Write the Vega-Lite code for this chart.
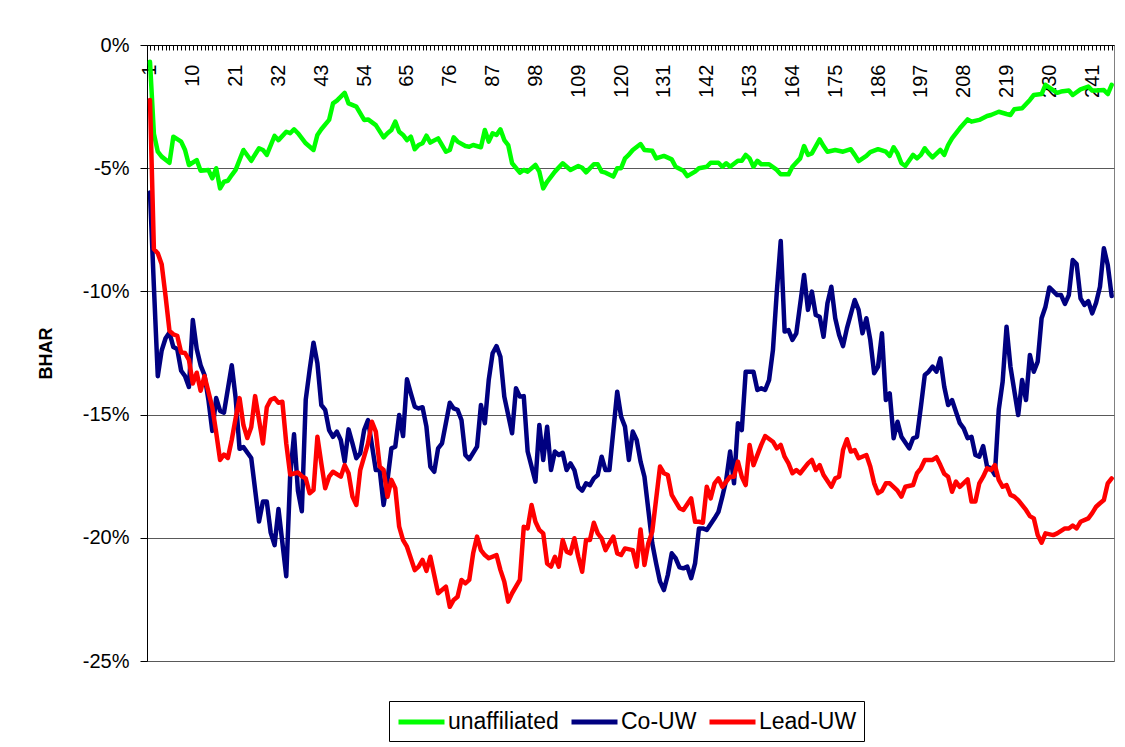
{
 "$schema": "https://vega.github.io/schema/vega-lite/v6.json",
 "width": 967,
 "height": 616,
 "autosize": {"type": "none"},
 "padding": {"left": 147, "top": 45, "right": 11, "bottom": 86},
 "background": "white",
 "config": {"font": "Liberation Sans", "view": {"stroke": "#808080", "strokeWidth": 1}},
 "data": {"values": [
{"series":"unaffiliated","day":-1,"bhar":-0.68},{"series":"unaffiliated","day":0,"bhar":-3.6},{"series":"unaffiliated","day":1,"bhar":-4.33},{"series":"unaffiliated","day":2,"bhar":-4.53},{"series":"unaffiliated","day":4,"bhar":-4.78},{"series":"unaffiliated","day":5,"bhar":-3.72},{"series":"unaffiliated","day":7,"bhar":-3.92},{"series":"unaffiliated","day":8,"bhar":-4.26},{"series":"unaffiliated","day":9,"bhar":-4.87},{"series":"unaffiliated","day":11,"bhar":-4.67},{"series":"unaffiliated","day":12,"bhar":-5.10},{"series":"unaffiliated","day":14,"bhar":-5.07},{"series":"unaffiliated","day":15,"bhar":-5.41},{"series":"unaffiliated","day":16,"bhar":-5.0},{"series":"unaffiliated","day":17,"bhar":-5.82},{"series":"unaffiliated","day":18,"bhar":-5.55},{"series":"unaffiliated","day":19,"bhar":-5.51},{"series":"unaffiliated","day":20,"bhar":-5.28},{"series":"unaffiliated","day":21,"bhar":-5.07},{"series":"unaffiliated","day":23,"bhar":-4.26},{"series":"unaffiliated","day":25,"bhar":-4.70},{"series":"unaffiliated","day":27,"bhar":-4.19},{"series":"unaffiliated","day":28,"bhar":-4.26},{"series":"unaffiliated","day":29,"bhar":-4.46},{"series":"unaffiliated","day":31,"bhar":-3.69},{"series":"unaffiliated","day":32,"bhar":-3.86},{"series":"unaffiliated","day":34,"bhar":-3.52},{"series":"unaffiliated","day":35,"bhar":-3.58},{"series":"unaffiliated","day":36,"bhar":-3.42},{"series":"unaffiliated","day":37,"bhar":-3.58},{"series":"unaffiliated","day":39,"bhar":-3.99},{"series":"unaffiliated","day":41,"bhar":-4.26},{"series":"unaffiliated","day":42,"bhar":-3.65},{"series":"unaffiliated","day":43,"bhar":-3.42},{"series":"unaffiliated","day":45,"bhar":-3.04},{"series":"unaffiliated","day":46,"bhar":-2.37},{"series":"unaffiliated","day":47,"bhar":-2.26},{"series":"unaffiliated","day":49,"bhar":-1.94},{"series":"unaffiliated","day":50,"bhar":-2.37},{"series":"unaffiliated","day":52,"bhar":-2.50},{"series":"unaffiliated","day":54,"bhar":-3.04},{"series":"unaffiliated","day":55,"bhar":-3.02},{"series":"unaffiliated","day":57,"bhar":-3.25},{"series":"unaffiliated","day":59,"bhar":-3.75},{"series":"unaffiliated","day":60,"bhar":-3.58},{"series":"unaffiliated","day":61,"bhar":-3.45},{"series":"unaffiliated","day":62,"bhar":-3.11},{"series":"unaffiliated","day":63,"bhar":-3.52},{"series":"unaffiliated","day":64,"bhar":-3.65},{"series":"unaffiliated","day":65,"bhar":-3.86},{"series":"unaffiliated","day":66,"bhar":-3.72},{"series":"unaffiliated","day":67,"bhar":-4.23},{"series":"unaffiliated","day":68,"bhar":-4.06},{"series":"unaffiliated","day":69,"bhar":-3.99},{"series":"unaffiliated","day":70,"bhar":-3.68},{"series":"unaffiliated","day":71,"bhar":-3.96},{"series":"unaffiliated","day":73,"bhar":-3.79},{"series":"unaffiliated","day":75,"bhar":-4.33},{"series":"unaffiliated","day":76,"bhar":-4.26},{"series":"unaffiliated","day":77,"bhar":-3.75},{"series":"unaffiliated","day":78,"bhar":-3.92},{"series":"unaffiliated","day":80,"bhar":-4.10},{"series":"unaffiliated","day":81,"bhar":-4.13},{"series":"unaffiliated","day":82,"bhar":-4.06},{"series":"unaffiliated","day":84,"bhar":-4.15},{"series":"unaffiliated","day":85,"bhar":-3.45},{"series":"unaffiliated","day":86,"bhar":-3.92},{"series":"unaffiliated","day":87,"bhar":-3.58},{"series":"unaffiliated","day":88,"bhar":-3.65},{"series":"unaffiliated","day":89,"bhar":-3.42},{"series":"unaffiliated","day":90,"bhar":-3.86},{"series":"unaffiliated","day":91,"bhar":-4.06},{"series":"unaffiliated","day":92,"bhar":-4.80},{"series":"unaffiliated","day":94,"bhar":-5.18},{"series":"unaffiliated","day":95,"bhar":-5.07},{"series":"unaffiliated","day":96,"bhar":-5.14},{"series":"unaffiliated","day":98,"bhar":-4.87},{"series":"unaffiliated","day":99,"bhar":-5.14},{"series":"unaffiliated","day":100,"bhar":-5.82},{"series":"unaffiliated","day":101,"bhar":-5.55},{"series":"unaffiliated","day":103,"bhar":-5.14},{"series":"unaffiliated","day":105,"bhar":-4.80},{"series":"unaffiliated","day":107,"bhar":-5.07},{"series":"unaffiliated","day":109,"bhar":-4.91},{"series":"unaffiliated","day":110,"bhar":-4.98},{"series":"unaffiliated","day":111,"bhar":-5.17},{"series":"unaffiliated","day":113,"bhar":-4.84},{"series":"unaffiliated","day":114,"bhar":-4.84},{"series":"unaffiliated","day":115,"bhar":-5.14},{"series":"unaffiliated","day":116,"bhar":-5.18},{"series":"unaffiliated","day":118,"bhar":-5.34},{"series":"unaffiliated","day":119,"bhar":-5.0},{"series":"unaffiliated","day":120,"bhar":-5.0},{"series":"unaffiliated","day":121,"bhar":-4.60},{"series":"unaffiliated","day":122,"bhar":-4.45},{"series":"unaffiliated","day":123,"bhar":-4.26},{"series":"unaffiliated","day":125,"bhar":-4.02},{"series":"unaffiliated","day":126,"bhar":-4.26},{"series":"unaffiliated","day":128,"bhar":-4.29},{"series":"unaffiliated","day":129,"bhar":-4.60},{"series":"unaffiliated","day":131,"bhar":-4.50},{"series":"unaffiliated","day":133,"bhar":-4.64},{"series":"unaffiliated","day":134,"bhar":-4.94},{"series":"unaffiliated","day":136,"bhar":-5.10},{"series":"unaffiliated","day":137,"bhar":-5.32},{"series":"unaffiliated","day":139,"bhar":-5.14},{"series":"unaffiliated","day":140,"bhar":-5.0},{"series":"unaffiliated","day":142,"bhar":-4.94},{"series":"unaffiliated","day":143,"bhar":-4.78},{"series":"unaffiliated","day":145,"bhar":-4.78},{"series":"unaffiliated","day":146,"bhar":-4.94},{"series":"unaffiliated","day":147,"bhar":-4.80},{"series":"unaffiliated","day":148,"bhar":-4.94},{"series":"unaffiliated","day":150,"bhar":-4.70},{"series":"unaffiliated","day":151,"bhar":-4.70},{"series":"unaffiliated","day":152,"bhar":-4.46},{"series":"unaffiliated","day":153,"bhar":-4.60},{"series":"unaffiliated","day":154,"bhar":-4.94},{"series":"unaffiliated","day":155,"bhar":-4.70},{"series":"unaffiliated","day":156,"bhar":-4.84},{"series":"unaffiliated","day":158,"bhar":-4.84},{"series":"unaffiliated","day":160,"bhar":-5.07},{"series":"unaffiliated","day":161,"bhar":-5.25},{"series":"unaffiliated","day":163,"bhar":-5.25},{"series":"unaffiliated","day":164,"bhar":-4.94},{"series":"unaffiliated","day":166,"bhar":-4.60},{"series":"unaffiliated","day":167,"bhar":-4.10},{"series":"unaffiliated","day":168,"bhar":-4.46},{"series":"unaffiliated","day":169,"bhar":-4.40},{"series":"unaffiliated","day":171,"bhar":-3.83},{"series":"unaffiliated","day":172,"bhar":-4.10},{"series":"unaffiliated","day":173,"bhar":-4.33},{"series":"unaffiliated","day":175,"bhar":-4.26},{"series":"unaffiliated","day":177,"bhar":-4.33},{"series":"unaffiliated","day":179,"bhar":-4.23},{"series":"unaffiliated","day":180,"bhar":-4.46},{"series":"unaffiliated","day":181,"bhar":-4.71},{"series":"unaffiliated","day":183,"bhar":-4.50},{"series":"unaffiliated","day":184,"bhar":-4.35},{"series":"unaffiliated","day":186,"bhar":-4.23},{"series":"unaffiliated","day":188,"bhar":-4.33},{"series":"unaffiliated","day":189,"bhar":-4.50},{"series":"unaffiliated","day":190,"bhar":-4.15},{"series":"unaffiliated","day":191,"bhar":-4.40},{"series":"unaffiliated","day":192,"bhar":-4.80},{"series":"unaffiliated","day":193,"bhar":-4.91},{"series":"unaffiliated","day":195,"bhar":-4.46},{"series":"unaffiliated","day":196,"bhar":-4.60},{"series":"unaffiliated","day":197,"bhar":-4.46},{"series":"unaffiliated","day":198,"bhar":-4.19},{"series":"unaffiliated","day":199,"bhar":-4.40},{"series":"unaffiliated","day":200,"bhar":-4.56},{"series":"unaffiliated","day":202,"bhar":-4.26},{"series":"unaffiliated","day":203,"bhar":-4.46},{"series":"unaffiliated","day":204,"bhar":-4.06},{"series":"unaffiliated","day":205,"bhar":-3.79},{"series":"unaffiliated","day":207,"bhar":-3.38},{"series":"unaffiliated","day":209,"bhar":-3.02},{"series":"unaffiliated","day":210,"bhar":-3.11},{"series":"unaffiliated","day":212,"bhar":-3.04},{"series":"unaffiliated","day":214,"bhar":-2.88},{"series":"unaffiliated","day":215,"bhar":-2.84},{"series":"unaffiliated","day":217,"bhar":-2.71},{"series":"unaffiliated","day":219,"bhar":-2.80},{"series":"unaffiliated","day":220,"bhar":-2.84},{"series":"unaffiliated","day":221,"bhar":-2.61},{"series":"unaffiliated","day":223,"bhar":-2.57},{"series":"unaffiliated","day":225,"bhar":-2.23},{"series":"unaffiliated","day":226,"bhar":-2.03},{"series":"unaffiliated","day":228,"bhar":-1.99},{"series":"unaffiliated","day":229,"bhar":-1.62},{"series":"unaffiliated","day":230,"bhar":-1.73},{"series":"unaffiliated","day":232,"bhar":-1.94},{"series":"unaffiliated","day":233,"bhar":-1.89},{"series":"unaffiliated","day":235,"bhar":-1.85},{"series":"unaffiliated","day":236,"bhar":-2.03},{"series":"unaffiliated","day":238,"bhar":-1.80},{"series":"unaffiliated","day":240,"bhar":-1.69},{"series":"unaffiliated","day":241,"bhar":-1.85},{"series":"unaffiliated","day":242,"bhar":-1.85},{"series":"unaffiliated","day":244,"bhar":-1.83},{"series":"unaffiliated","day":245,"bhar":-1.99},{"series":"unaffiliated","day":246,"bhar":-1.62},
{"series":"Co-UW","day":-1,"bhar":-5.99},{"series":"Co-UW","day":0,"bhar":-9.8},{"series":"Co-UW","day":1,"bhar":-13.44},{"series":"Co-UW","day":2,"bhar":-12.4},{"series":"Co-UW","day":3,"bhar":-11.9},{"series":"Co-UW","day":4,"bhar":-11.67},{"series":"Co-UW","day":5,"bhar":-12.26},{"series":"Co-UW","day":6,"bhar":-12.34},{"series":"Co-UW","day":7,"bhar":-13.22},{"series":"Co-UW","day":8,"bhar":-13.44},{"series":"Co-UW","day":9,"bhar":-13.88},{"series":"Co-UW","day":10,"bhar":-11.16},{"series":"Co-UW","day":11,"bhar":-12.34},{"series":"Co-UW","day":12,"bhar":-13.0},{"series":"Co-UW","day":13,"bhar":-13.4},{"series":"Co-UW","day":14,"bhar":-14.4},{"series":"Co-UW","day":15,"bhar":-15.66},{"series":"Co-UW","day":16,"bhar":-14.33},{"series":"Co-UW","day":17,"bhar":-14.85},{"series":"Co-UW","day":18,"bhar":-14.92},{"series":"Co-UW","day":20,"bhar":-13.0},{"series":"Co-UW","day":21,"bhar":-14.33},{"series":"Co-UW","day":22,"bhar":-16.39},{"series":"Co-UW","day":23,"bhar":-16.32},{"series":"Co-UW","day":25,"bhar":-16.76},{"series":"Co-UW","day":27,"bhar":-19.34},{"series":"Co-UW","day":28,"bhar":-18.53},{"series":"Co-UW","day":29,"bhar":-18.53},{"series":"Co-UW","day":30,"bhar":-19.79},{"series":"Co-UW","day":31,"bhar":-20.30},{"series":"Co-UW","day":32,"bhar":-18.83},{"series":"Co-UW","day":34,"bhar":-21.56},{"series":"Co-UW","day":35,"bhar":-17.5},{"series":"Co-UW","day":36,"bhar":-15.80},{"series":"Co-UW","day":37,"bhar":-18.09},{"series":"Co-UW","day":38,"bhar":-18.92},{"series":"Co-UW","day":39,"bhar":-14.4},{"series":"Co-UW","day":40,"bhar":-13.19},{"series":"Co-UW","day":41,"bhar":-12.08},{"series":"Co-UW","day":42,"bhar":-12.92},{"series":"Co-UW","day":43,"bhar":-14.61},{"series":"Co-UW","day":44,"bhar":-14.81},{"series":"Co-UW","day":45,"bhar":-15.63},{"series":"Co-UW","day":46,"bhar":-15.9},{"series":"Co-UW","day":47,"bhar":-15.69},{"series":"Co-UW","day":48,"bhar":-16.03},{"series":"Co-UW","day":49,"bhar":-16.91},{"series":"Co-UW","day":50,"bhar":-15.6},{"series":"Co-UW","day":51,"bhar":-16.17},{"series":"Co-UW","day":52,"bhar":-16.77},{"series":"Co-UW","day":53,"bhar":-16.57},{"series":"Co-UW","day":54,"bhar":-15.63},{"series":"Co-UW","day":55,"bhar":-15.22},{"series":"Co-UW","day":57,"bhar":-17.25},{"series":"Co-UW","day":58,"bhar":-17.25},{"series":"Co-UW","day":59,"bhar":-18.67},{"series":"Co-UW","day":60,"bhar":-17.65},{"series":"Co-UW","day":61,"bhar":-16.37},{"series":"Co-UW","day":62,"bhar":-16.3},{"series":"Co-UW","day":63,"bhar":-15.02},{"series":"Co-UW","day":64,"bhar":-15.87},{"series":"Co-UW","day":65,"bhar":-13.57},{"series":"Co-UW","day":66,"bhar":-14.14},{"series":"Co-UW","day":67,"bhar":-14.68},{"series":"Co-UW","day":68,"bhar":-14.75},{"series":"Co-UW","day":69,"bhar":-14.7},{"series":"Co-UW","day":70,"bhar":-15.49},{"series":"Co-UW","day":71,"bhar":-17.11},{"series":"Co-UW","day":72,"bhar":-17.32},{"series":"Co-UW","day":73,"bhar":-16.37},{"series":"Co-UW","day":74,"bhar":-16.17},{"series":"Co-UW","day":76,"bhar":-14.52},{"series":"Co-UW","day":77,"bhar":-14.75},{"series":"Co-UW","day":78,"bhar":-14.81},{"series":"Co-UW","day":79,"bhar":-15.22},{"series":"Co-UW","day":80,"bhar":-16.64},{"series":"Co-UW","day":81,"bhar":-16.81},{"series":"Co-UW","day":83,"bhar":-16.3},{"series":"Co-UW","day":84,"bhar":-14.61},{"series":"Co-UW","day":85,"bhar":-15.35},{"series":"Co-UW","day":86,"bhar":-13.6},{"series":"Co-UW","day":87,"bhar":-12.51},{"series":"Co-UW","day":88,"bhar":-12.22},{"series":"Co-UW","day":89,"bhar":-12.65},{"series":"Co-UW","day":90,"bhar":-14.27},{"series":"Co-UW","day":92,"bhar":-15.76},{"series":"Co-UW","day":93,"bhar":-13.93},{"series":"Co-UW","day":94,"bhar":-14.27},{"series":"Co-UW","day":95,"bhar":-14.25},{"series":"Co-UW","day":96,"bhar":-16.5},{"series":"Co-UW","day":98,"bhar":-17.72},{"series":"Co-UW","day":99,"bhar":-15.42},{"series":"Co-UW","day":100,"bhar":-16.84},{"series":"Co-UW","day":101,"bhar":-15.49},{"series":"Co-UW","day":102,"bhar":-17.25},{"series":"Co-UW","day":103,"bhar":-16.5},{"series":"Co-UW","day":104,"bhar":-16.64},{"series":"Co-UW","day":105,"bhar":-16.55},{"series":"Co-UW","day":106,"bhar":-17.25},{"series":"Co-UW","day":107,"bhar":-16.98},{"series":"Co-UW","day":108,"bhar":-17.25},{"series":"Co-UW","day":109,"bhar":-17.93},{"series":"Co-UW","day":110,"bhar":-18.09},{"series":"Co-UW","day":111,"bhar":-17.79},{"series":"Co-UW","day":112,"bhar":-17.86},{"series":"Co-UW","day":113,"bhar":-17.59},{"series":"Co-UW","day":114,"bhar":-17.45},{"series":"Co-UW","day":115,"bhar":-16.71},{"series":"Co-UW","day":116,"bhar":-17.25},{"series":"Co-UW","day":117,"bhar":-17.25},{"series":"Co-UW","day":119,"bhar":-14.07},{"series":"Co-UW","day":120,"bhar":-15.08},{"series":"Co-UW","day":121,"bhar":-15.49},{"series":"Co-UW","day":122,"bhar":-16.84},{"series":"Co-UW","day":123,"bhar":-15.69},{"series":"Co-UW","day":124,"bhar":-16.03},{"series":"Co-UW","day":125,"bhar":-16.91},{"series":"Co-UW","day":126,"bhar":-17.52},{"series":"Co-UW","day":127,"bhar":-18.87},{"series":"Co-UW","day":128,"bhar":-20.22},{"series":"Co-UW","day":129,"bhar":-21.04},{"series":"Co-UW","day":130,"bhar":-21.78},{"series":"Co-UW","day":131,"bhar":-22.12},{"series":"Co-UW","day":132,"bhar":-21.51},{"series":"Co-UW","day":133,"bhar":-20.63},{"series":"Co-UW","day":134,"bhar":-20.83},{"series":"Co-UW","day":135,"bhar":-21.2},{"series":"Co-UW","day":136,"bhar":-21.24},{"series":"Co-UW","day":137,"bhar":-21.17},{"series":"Co-UW","day":138,"bhar":-21.64},{"series":"Co-UW","day":139,"bhar":-21.04},{"series":"Co-UW","day":140,"bhar":-19.62},{"series":"Co-UW","day":141,"bhar":-19.62},{"series":"Co-UW","day":142,"bhar":-19.68},{"series":"Co-UW","day":144,"bhar":-19.21},{"series":"Co-UW","day":145,"bhar":-18.95},{"series":"Co-UW","day":146,"bhar":-18.33},{"series":"Co-UW","day":147,"bhar":-17.65},{"series":"Co-UW","day":148,"bhar":-16.5},{"series":"Co-UW","day":149,"bhar":-17.79},{"series":"Co-UW","day":150,"bhar":-15.35},{"series":"Co-UW","day":151,"bhar":-15.63},{"series":"Co-UW","day":152,"bhar":-13.26},{"series":"Co-UW","day":154,"bhar":-13.26},{"series":"Co-UW","day":155,"bhar":-14.0},{"series":"Co-UW","day":156,"bhar":-13.93},{"series":"Co-UW","day":157,"bhar":-14.0},{"series":"Co-UW","day":158,"bhar":-13.6},{"series":"Co-UW","day":159,"bhar":-12.38},{"series":"Co-UW","day":160,"bhar":-10.0},{"series":"Co-UW","day":161,"bhar":-7.95},{"series":"Co-UW","day":162,"bhar":-11.63},{"series":"Co-UW","day":163,"bhar":-11.57},{"series":"Co-UW","day":164,"bhar":-11.97},{"series":"Co-UW","day":165,"bhar":-11.7},{"series":"Co-UW","day":167,"bhar":-9.33},{"series":"Co-UW","day":168,"bhar":-10.75},{"series":"Co-UW","day":169,"bhar":-10.01},{"series":"Co-UW","day":170,"bhar":-10.96},{"series":"Co-UW","day":171,"bhar":-11.03},{"series":"Co-UW","day":172,"bhar":-11.84},{"series":"Co-UW","day":173,"bhar":-10.48},{"series":"Co-UW","day":174,"bhar":-9.81},{"series":"Co-UW","day":175,"bhar":-11.09},{"series":"Co-UW","day":176,"bhar":-11.77},{"series":"Co-UW","day":177,"bhar":-12.22},{"series":"Co-UW","day":178,"bhar":-11.5},{"series":"Co-UW","day":180,"bhar":-10.35},{"series":"Co-UW","day":181,"bhar":-10.75},{"series":"Co-UW","day":182,"bhar":-11.7},{"series":"Co-UW","day":183,"bhar":-11.09},{"series":"Co-UW","day":184,"bhar":-11.97},{"series":"Co-UW","day":185,"bhar":-13.32},{"series":"Co-UW","day":186,"bhar":-13.05},{"series":"Co-UW","day":187,"bhar":-11.7},{"series":"Co-UW","day":188,"bhar":-14.41},{"series":"Co-UW","day":189,"bhar":-14.14},{"series":"Co-UW","day":190,"bhar":-15.96},{"series":"Co-UW","day":191,"bhar":-15.29},{"series":"Co-UW","day":192,"bhar":-15.9},{"series":"Co-UW","day":194,"bhar":-16.37},{"series":"Co-UW","day":195,"bhar":-15.96},{"series":"Co-UW","day":196,"bhar":-15.9},{"series":"Co-UW","day":197,"bhar":-14.68},{"series":"Co-UW","day":198,"bhar":-13.39},{"series":"Co-UW","day":199,"bhar":-13.26},{"series":"Co-UW","day":200,"bhar":-13.05},{"series":"Co-UW","day":201,"bhar":-13.26},{"series":"Co-UW","day":202,"bhar":-12.72},{"series":"Co-UW","day":203,"bhar":-13.87},{"series":"Co-UW","day":204,"bhar":-14.61},{"series":"Co-UW","day":205,"bhar":-14.41},{"series":"Co-UW","day":207,"bhar":-15.35},{"series":"Co-UW","day":208,"bhar":-15.56},{"series":"Co-UW","day":209,"bhar":-15.96},{"series":"Co-UW","day":210,"bhar":-15.9},{"series":"Co-UW","day":211,"bhar":-16.64},{"series":"Co-UW","day":212,"bhar":-16.71},{"series":"Co-UW","day":213,"bhar":-16.28},{"series":"Co-UW","day":214,"bhar":-17.11},{"series":"Co-UW","day":215,"bhar":-17.18},{"series":"Co-UW","day":216,"bhar":-17.45},{"series":"Co-UW","day":217,"bhar":-14.8},{"series":"Co-UW","day":218,"bhar":-13.66},{"series":"Co-UW","day":219,"bhar":-11.43},{"series":"Co-UW","day":220,"bhar":-13.05},{"series":"Co-UW","day":222,"bhar":-15.02},{"series":"Co-UW","day":223,"bhar":-13.6},{"series":"Co-UW","day":224,"bhar":-14.41},{"series":"Co-UW","day":225,"bhar":-12.58},{"series":"Co-UW","day":226,"bhar":-13.26},{"series":"Co-UW","day":227,"bhar":-12.85},{"series":"Co-UW","day":228,"bhar":-11.09},{"series":"Co-UW","day":229,"bhar":-10.62},{"series":"Co-UW","day":230,"bhar":-9.84},{"series":"Co-UW","day":232,"bhar":-10.15},{"series":"Co-UW","day":233,"bhar":-10.15},{"series":"Co-UW","day":234,"bhar":-10.51},{"series":"Co-UW","day":235,"bhar":-10.15},{"series":"Co-UW","day":236,"bhar":-8.73},{"series":"Co-UW","day":237,"bhar":-8.89},{"series":"Co-UW","day":238,"bhar":-10.28},{"series":"Co-UW","day":239,"bhar":-10.55},{"series":"Co-UW","day":240,"bhar":-10.4},{"series":"Co-UW","day":241,"bhar":-10.89},{"series":"Co-UW","day":242,"bhar":-10.46},{"series":"Co-UW","day":243,"bhar":-9.81},{"series":"Co-UW","day":244,"bhar":-8.25},{"series":"Co-UW","day":245,"bhar":-8.93},{"series":"Co-UW","day":246,"bhar":-10.19},
{"series":"Lead-UW","day":-1,"bhar":-2.23},{"series":"Lead-UW","day":0,"bhar":-8.28},{"series":"Lead-UW","day":1,"bhar":-8.45},{"series":"Lead-UW","day":2,"bhar":-8.9},{"series":"Lead-UW","day":3,"bhar":-10.2},{"series":"Lead-UW","day":4,"bhar":-11.6},{"series":"Lead-UW","day":5,"bhar":-11.74},{"series":"Lead-UW","day":6,"bhar":-11.8},{"series":"Lead-UW","day":7,"bhar":-12.48},{"series":"Lead-UW","day":8,"bhar":-12.5},{"series":"Lead-UW","day":9,"bhar":-12.78},{"series":"Lead-UW","day":10,"bhar":-13.74},{"series":"Lead-UW","day":11,"bhar":-13.3},{"series":"Lead-UW","day":12,"bhar":-14.03},{"series":"Lead-UW","day":13,"bhar":-13.44},{"series":"Lead-UW","day":15,"bhar":-14.7},{"series":"Lead-UW","day":16,"bhar":-15.73},{"series":"Lead-UW","day":17,"bhar":-16.84},{"series":"Lead-UW","day":18,"bhar":-16.62},{"series":"Lead-UW","day":19,"bhar":-16.76},{"series":"Lead-UW","day":20,"bhar":-16.02},{"series":"Lead-UW","day":21,"bhar":-15.14},{"series":"Lead-UW","day":22,"bhar":-14.33},{"series":"Lead-UW","day":23,"bhar":-15.43},{"series":"Lead-UW","day":24,"bhar":-15.95},{"series":"Lead-UW","day":25,"bhar":-15.51},{"series":"Lead-UW","day":26,"bhar":-14.25},{"series":"Lead-UW","day":28,"bhar":-16.17},{"series":"Lead-UW","day":29,"bhar":-14.7},{"series":"Lead-UW","day":30,"bhar":-14.40},{"series":"Lead-UW","day":31,"bhar":-14.33},{"series":"Lead-UW","day":32,"bhar":-14.52},{"series":"Lead-UW","day":33,"bhar":-14.48},{"series":"Lead-UW","day":34,"bhar":-16.17},{"series":"Lead-UW","day":35,"bhar":-17.43},{"series":"Lead-UW","day":37,"bhar":-17.35},{"series":"Lead-UW","day":38,"bhar":-17.5},{"series":"Lead-UW","day":39,"bhar":-17.59},{"series":"Lead-UW","day":40,"bhar":-18.19},{"series":"Lead-UW","day":41,"bhar":-18.06},{"series":"Lead-UW","day":42,"bhar":-15.9},{"series":"Lead-UW","day":43,"bhar":-16.98},{"series":"Lead-UW","day":44,"bhar":-17.99},{"series":"Lead-UW","day":45,"bhar":-17.52},{"series":"Lead-UW","day":46,"bhar":-17.32},{"series":"Lead-UW","day":48,"bhar":-17.52},{"series":"Lead-UW","day":49,"bhar":-17.05},{"series":"Lead-UW","day":50,"bhar":-17.38},{"series":"Lead-UW","day":51,"bhar":-18.33},{"series":"Lead-UW","day":52,"bhar":-18.67},{"series":"Lead-UW","day":53,"bhar":-17.25},{"series":"Lead-UW","day":55,"bhar":-16.17},{"series":"Lead-UW","day":56,"bhar":-15.29},{"series":"Lead-UW","day":57,"bhar":-15.69},{"series":"Lead-UW","day":58,"bhar":-17.11},{"series":"Lead-UW","day":59,"bhar":-17.25},{"series":"Lead-UW","day":60,"bhar":-18.33},{"series":"Lead-UW","day":61,"bhar":-17.65},{"series":"Lead-UW","day":62,"bhar":-17.99},{"series":"Lead-UW","day":63,"bhar":-19.55},{"series":"Lead-UW","day":64,"bhar":-20.09},{"series":"Lead-UW","day":65,"bhar":-20.36},{"series":"Lead-UW","day":67,"bhar":-21.31},{"series":"Lead-UW","day":68,"bhar":-21.17},{"series":"Lead-UW","day":69,"bhar":-20.9},{"series":"Lead-UW","day":70,"bhar":-21.34},{"series":"Lead-UW","day":71,"bhar":-20.77},{"series":"Lead-UW","day":72,"bhar":-21.51},{"series":"Lead-UW","day":73,"bhar":-22.25},{"series":"Lead-UW","day":75,"bhar":-21.98},{"series":"Lead-UW","day":76,"bhar":-22.8},{"series":"Lead-UW","day":77,"bhar":-22.52},{"series":"Lead-UW","day":78,"bhar":-22.39},{"series":"Lead-UW","day":79,"bhar":-21.71},{"series":"Lead-UW","day":80,"bhar":-21.85},{"series":"Lead-UW","day":81,"bhar":-21.71},{"series":"Lead-UW","day":82,"bhar":-20.63},{"series":"Lead-UW","day":83,"bhar":-19.95},{"series":"Lead-UW","day":84,"bhar":-20.5},{"series":"Lead-UW","day":85,"bhar":-20.7},{"series":"Lead-UW","day":86,"bhar":-20.83},{"series":"Lead-UW","day":88,"bhar":-20.7},{"series":"Lead-UW","day":89,"bhar":-21.3},{"series":"Lead-UW","day":90,"bhar":-21.78},{"series":"Lead-UW","day":91,"bhar":-22.59},{"series":"Lead-UW","day":92,"bhar":-22.25},{"series":"Lead-UW","day":94,"bhar":-21.71},{"series":"Lead-UW","day":95,"bhar":-19.55},{"series":"Lead-UW","day":96,"bhar":-19.62},{"series":"Lead-UW","day":97,"bhar":-18.67},{"series":"Lead-UW","day":98,"bhar":-19.35},{"series":"Lead-UW","day":99,"bhar":-19.68},{"series":"Lead-UW","day":100,"bhar":-19.82},{"series":"Lead-UW","day":101,"bhar":-21.04},{"series":"Lead-UW","day":102,"bhar":-21.17},{"series":"Lead-UW","day":103,"bhar":-20.77},{"series":"Lead-UW","day":104,"bhar":-21.17},{"series":"Lead-UW","day":105,"bhar":-20.09},{"series":"Lead-UW","day":106,"bhar":-20.56},{"series":"Lead-UW","day":107,"bhar":-20.63},{"series":"Lead-UW","day":108,"bhar":-20.02},{"series":"Lead-UW","day":109,"bhar":-20.77},{"series":"Lead-UW","day":110,"bhar":-21.38},{"series":"Lead-UW","day":111,"bhar":-20.09},{"series":"Lead-UW","day":112,"bhar":-20.09},{"series":"Lead-UW","day":113,"bhar":-19.39},{"series":"Lead-UW","day":114,"bhar":-19.82},{"series":"Lead-UW","day":115,"bhar":-20.02},{"series":"Lead-UW","day":116,"bhar":-20.5},{"series":"Lead-UW","day":117,"bhar":-20.22},{"series":"Lead-UW","day":118,"bhar":-19.95},{"series":"Lead-UW","day":119,"bhar":-20.63},{"series":"Lead-UW","day":120,"bhar":-20.7},{"series":"Lead-UW","day":121,"bhar":-20.43},{"series":"Lead-UW","day":123,"bhar":-20.5},{"series":"Lead-UW","day":124,"bhar":-21.17},{"series":"Lead-UW","day":125,"bhar":-19.66},{"series":"Lead-UW","day":126,"bhar":-21.1},{"series":"Lead-UW","day":127,"bhar":-20.22},{"series":"Lead-UW","day":128,"bhar":-19.75},{"series":"Lead-UW","day":130,"bhar":-17.11},{"series":"Lead-UW","day":131,"bhar":-17.38},{"series":"Lead-UW","day":132,"bhar":-17.45},{"series":"Lead-UW","day":133,"bhar":-18.26},{"series":"Lead-UW","day":134,"bhar":-18.53},{"series":"Lead-UW","day":135,"bhar":-18.8},{"series":"Lead-UW","day":136,"bhar":-18.87},{"series":"Lead-UW","day":138,"bhar":-18.4},{"series":"Lead-UW","day":139,"bhar":-19.35},{"series":"Lead-UW","day":140,"bhar":-19.35},{"series":"Lead-UW","day":141,"bhar":-19.39},{"series":"Lead-UW","day":142,"bhar":-17.93},{"series":"Lead-UW","day":143,"bhar":-18.4},{"series":"Lead-UW","day":144,"bhar":-17.79},{"series":"Lead-UW","day":145,"bhar":-17.59},{"series":"Lead-UW","day":146,"bhar":-17.93},{"series":"Lead-UW","day":148,"bhar":-17.52},{"series":"Lead-UW","day":149,"bhar":-17.52},{"series":"Lead-UW","day":150,"bhar":-16.91},{"series":"Lead-UW","day":151,"bhar":-17.52},{"series":"Lead-UW","day":152,"bhar":-17.86},{"series":"Lead-UW","day":153,"bhar":-16.23},{"series":"Lead-UW","day":154,"bhar":-17.05},{"series":"Lead-UW","day":156,"bhar":-16.23},{"series":"Lead-UW","day":157,"bhar":-15.87},{"series":"Lead-UW","day":159,"bhar":-16.1},{"series":"Lead-UW","day":160,"bhar":-16.37},{"series":"Lead-UW","day":161,"bhar":-16.23},{"series":"Lead-UW","day":162,"bhar":-16.71},{"series":"Lead-UW","day":163,"bhar":-16.98},{"series":"Lead-UW","day":164,"bhar":-17.38},{"series":"Lead-UW","day":165,"bhar":-17.25},{"series":"Lead-UW","day":166,"bhar":-17.38},{"series":"Lead-UW","day":168,"bhar":-16.98},{"series":"Lead-UW","day":169,"bhar":-16.84},{"series":"Lead-UW","day":170,"bhar":-17.25},{"series":"Lead-UW","day":171,"bhar":-17.05},{"series":"Lead-UW","day":172,"bhar":-17.45},{"series":"Lead-UW","day":174,"bhar":-17.93},{"series":"Lead-UW","day":175,"bhar":-17.59},{"series":"Lead-UW","day":176,"bhar":-17.52},{"series":"Lead-UW","day":177,"bhar":-16.44},{"series":"Lead-UW","day":178,"bhar":-16.0},{"series":"Lead-UW","day":179,"bhar":-16.5},{"series":"Lead-UW","day":180,"bhar":-16.44},{"series":"Lead-UW","day":181,"bhar":-16.77},{"series":"Lead-UW","day":183,"bhar":-16.64},{"series":"Lead-UW","day":184,"bhar":-17.11},{"series":"Lead-UW","day":185,"bhar":-17.79},{"series":"Lead-UW","day":186,"bhar":-18.19},{"series":"Lead-UW","day":187,"bhar":-18.09},{"series":"Lead-UW","day":188,"bhar":-17.79},{"series":"Lead-UW","day":189,"bhar":-17.79},{"series":"Lead-UW","day":191,"bhar":-18.09},{"series":"Lead-UW","day":192,"bhar":-18.33},{"series":"Lead-UW","day":193,"bhar":-17.93},{"series":"Lead-UW","day":195,"bhar":-17.86},{"series":"Lead-UW","day":196,"bhar":-17.38},{"series":"Lead-UW","day":197,"bhar":-17.18},{"series":"Lead-UW","day":198,"bhar":-16.84},{"series":"Lead-UW","day":200,"bhar":-16.84},{"series":"Lead-UW","day":201,"bhar":-16.73},{"series":"Lead-UW","day":202,"bhar":-17.05},{"series":"Lead-UW","day":203,"bhar":-17.4},{"series":"Lead-UW","day":204,"bhar":-17.52},{"series":"Lead-UW","day":205,"bhar":-18.13},{"series":"Lead-UW","day":206,"bhar":-17.72},{"series":"Lead-UW","day":207,"bhar":-17.93},{"series":"Lead-UW","day":209,"bhar":-17.63},{"series":"Lead-UW","day":210,"bhar":-18.53},{"series":"Lead-UW","day":211,"bhar":-18.53},{"series":"Lead-UW","day":212,"bhar":-17.79},{"series":"Lead-UW","day":213,"bhar":-17.52},{"series":"Lead-UW","day":214,"bhar":-17.18},{"series":"Lead-UW","day":215,"bhar":-17.25},{"series":"Lead-UW","day":216,"bhar":-17.05},{"series":"Lead-UW","day":217,"bhar":-17.65},{"series":"Lead-UW","day":218,"bhar":-17.93},{"series":"Lead-UW","day":219,"bhar":-17.86},{"series":"Lead-UW","day":220,"bhar":-18.26},{"series":"Lead-UW","day":221,"bhar":-18.33},{"series":"Lead-UW","day":222,"bhar":-18.47},{"series":"Lead-UW","day":224,"bhar":-18.87},{"series":"Lead-UW","day":225,"bhar":-19.12},{"series":"Lead-UW","day":226,"bhar":-19.21},{"series":"Lead-UW","day":227,"bhar":-19.89},{"series":"Lead-UW","day":228,"bhar":-20.2},{"series":"Lead-UW","day":229,"bhar":-19.82},{"series":"Lead-UW","day":231,"bhar":-19.89},{"series":"Lead-UW","day":232,"bhar":-19.82},{"series":"Lead-UW","day":234,"bhar":-19.62},{"series":"Lead-UW","day":235,"bhar":-19.62},{"series":"Lead-UW","day":236,"bhar":-19.5},{"series":"Lead-UW","day":237,"bhar":-19.62},{"series":"Lead-UW","day":238,"bhar":-19.35},{"series":"Lead-UW","day":240,"bhar":-19.21},{"series":"Lead-UW","day":241,"bhar":-19.0},{"series":"Lead-UW","day":242,"bhar":-18.74},{"series":"Lead-UW","day":243,"bhar":-18.6},{"series":"Lead-UW","day":244,"bhar":-18.47},{"series":"Lead-UW","day":245,"bhar":-17.79},{"series":"Lead-UW","day":246,"bhar":-17.59}
 ]},
 "mark": {"type": "line", "strokeWidth": 4.5, "strokeJoin": "round", "strokeCap": "round"},
 "encoding": {
  "x": {
   "field": "day", "type": "quantitative",
   "scale": {"domain": [-1.77, 246.6], "nice": false, "zero": false},
   "axis": {
    "orient": "bottom", "offset": -616, "tickCount": 248,
    "labelExpr": "(datum.value + 1) % 11 === 0 ? '' + datum.value : ''",
    "labelAngle": -90, "labelAlign": "right", "labelBaseline": "middle",
    "labelFontSize": 20, "labelColor": "black", "labelPadding": 14,
    "labelOverlap": false, "labelBound": false, "labelFlush": false,
    "tickSize": 5, "tickColor": "black", "tickWidth": 1,
    "domainColor": "black", "domainWidth": 1,
    "grid": false, "title": null
   }
  },
  "y": {
   "field": "bhar", "type": "quantitative",
   "scale": {"domain": [-25, 0], "nice": false},
   "axis": {
    "values": [-25, -20, -15, -10, -5, 0],
    "labelExpr": "datum.value + '%'",
    "grid": true, "gridColor": "#595959", "gridWidth": 1,
    "domainColor": "black", "domainWidth": 1,
    "tickColor": "black", "tickSize": 7,
    "labelFontSize": 20, "labelColor": "black", "labelPadding": 11,
    "title": "BHAR", "titleFontSize": 18, "titleFontWeight": "bold", "titleColor": "black", "titlePadding": 27
   }
  },
  "color": {
   "field": "series", "type": "nominal",
   "scale": {"domain": ["unaffiliated", "Co-UW", "Lead-UW"], "range": ["#00FF00", "#000080", "#FF0000"]},
   "legend": {
    "orient": "none", "legendX": 242, "legendY": 656, "direction": "horizontal", "title": null,
    "symbolType": "M-1,0H3", "symbolStrokeWidth": 5, "symbolSize": 529,
    "labelFontSize": 23, "labelColor": "black", "labelOffset": 24, "columnPadding": 2,
    "strokeColor": "black", "padding": 7
   }
  }
 }
}
